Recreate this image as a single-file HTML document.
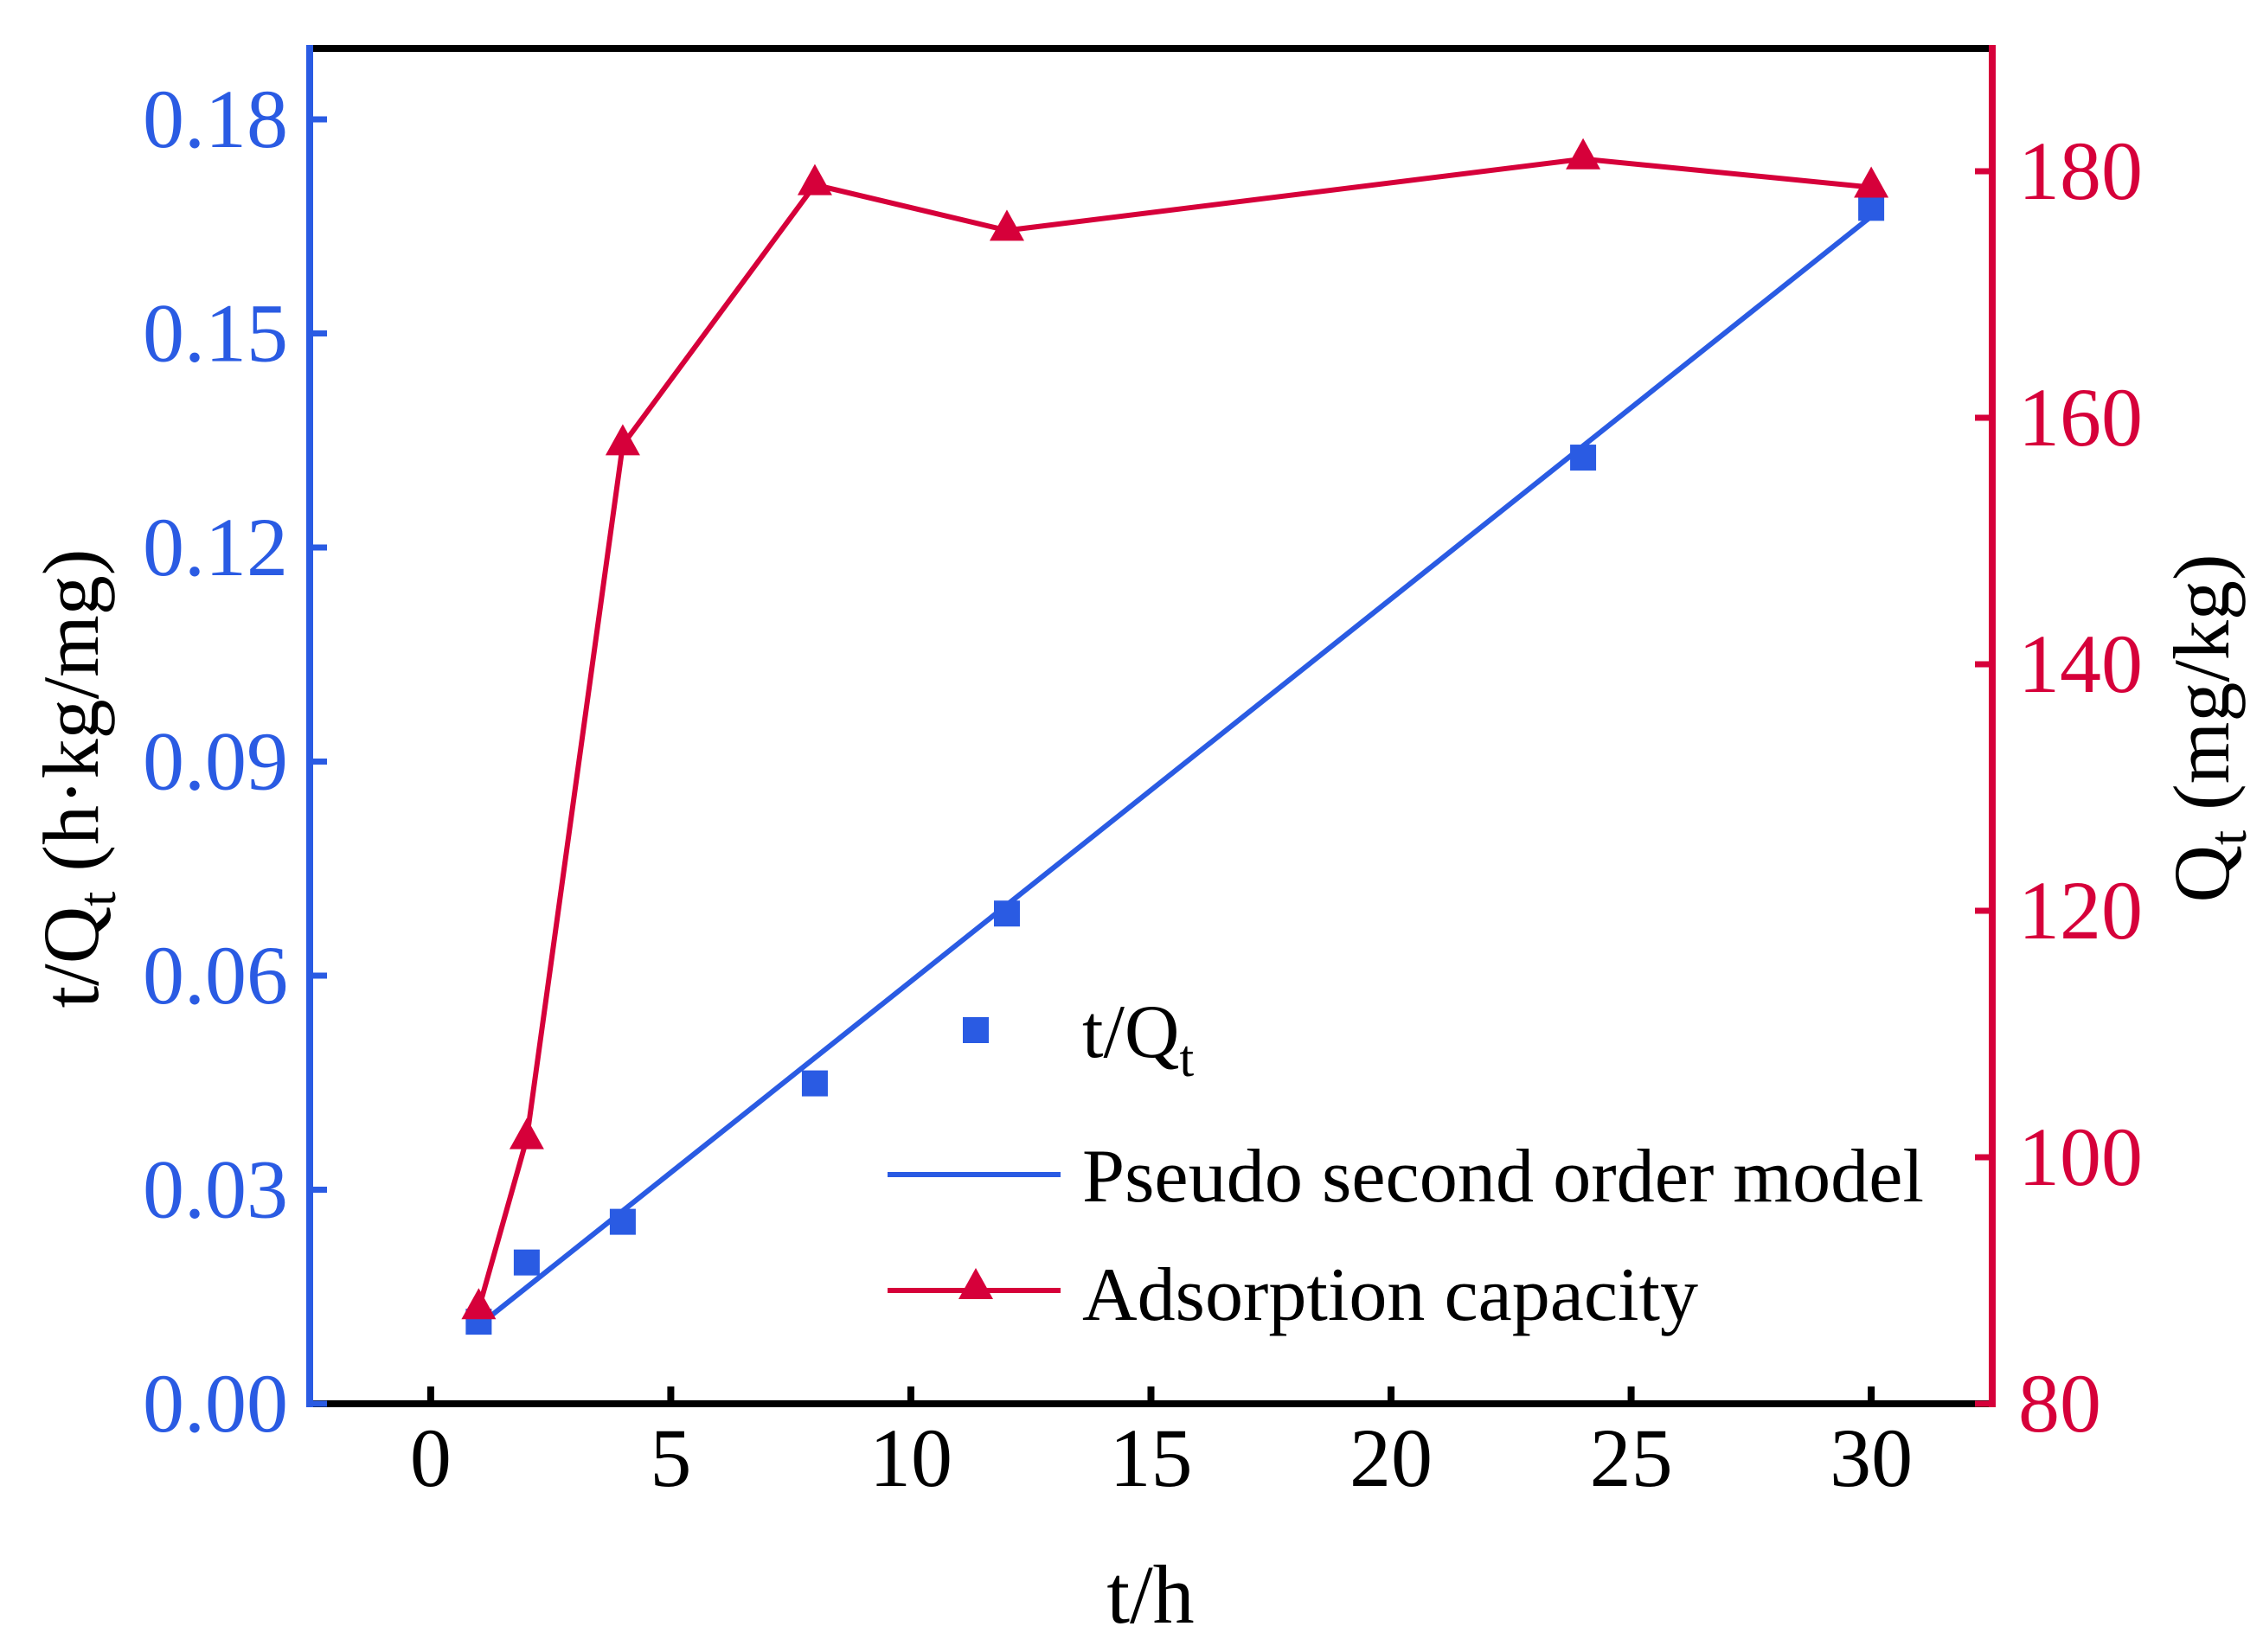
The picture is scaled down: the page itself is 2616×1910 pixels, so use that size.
<!DOCTYPE html>
<html><head><meta charset="utf-8"><style>
html,body{margin:0;padding:0;background:#fff;}
svg{display:block;font-family:"Liberation Serif",serif;}
</style></head><body>
<svg id="chart" width="2616" height="1910" viewBox="0 0 2616 1910" xmlns="http://www.w3.org/2000/svg">
<rect width="2616" height="1910" fill="#fff"/>
<g id="marks"></g>
<g id="axes"></g>
</svg>
<script>
const times = [1, 2, 4, 8, 12, 24, 30];
const tOverQ = [0.0115, 0.0198, 0.0255, 0.0449, 0.0687, 0.1326, 0.1676];
const qt = [87.7, 101.5, 157.8, 178.9, 175.2, 181.0, 178.7];
const fitSlope = 0.00536;
const fitIntercept = 0.0056;
const xTicks = [0, 5, 10, 15, 20, 25, 30];
const yLeftTicks = [0, 0.03, 0.06, 0.09, 0.12, 0.15, 0.18];
const yLeftLabels = ["0.00", "0.03", "0.06", "0.09", "0.12", "0.15", "0.18"];
const yRightTicks = [80, 100, 120, 140, 160, 180];

const PL = 358, PR = 2303, PT = 56, PB = 1623;
const X0 = -2.52, X1 = 32.52;
const BLUE = "#2a5be3", RED = "#d6003a";
function sx(v){ return PL + (v - X0) / (X1 - X0) * (PR - PL); }
function syL(v){ return PB - v / 0.18 * (PB - 138); }
function syR(v){ return PB - (v - 80) / 100 * (PB - 198); }

const NS = "http://www.w3.org/2000/svg";
const marksG = document.getElementById('marks');
const axesG = document.getElementById('axes');
function mk(tag, attrs, parent){
  const e = document.createElementNS(NS, tag);
  for (const k in attrs) e.setAttribute(k, attrs[k]);
  parent.appendChild(e);
  return e;
}

const fitLine = mk('line', {x1: sx(times[0]), y1: syL(fitSlope*times[0]+fitIntercept), x2: sx(times[times.length-1]), y2: syL(fitSlope*times[times.length-1]+fitIntercept), stroke: BLUE, 'stroke-width': 6}, marksG);



times.forEach((t, i) => {
  const s = mk('rect', {x: sx(t)-15, y: syL(tOverQ[i])-15, width: 30, height: 30, fill: BLUE}, marksG);
  
  
});

const redPts = times.map((t, i) => sx(t) + ',' + syR(qt[i])).join(' ');
const redLine = mk('polyline', {points: redPts, fill: 'none', stroke: RED, 'stroke-width': 6}, marksG);


function tri(cx, cy, parent){
  return mk('polygon', {points: `${cx},${cy-24} ${cx-20},${cy+12} ${cx+20},${cy+12}`, fill: RED}, parent);
}
times.forEach((t, i) => {
  const tr = tri(sx(t), syR(qt[i]), marksG);
  
  
});

const topAxis = mk('line', {x1: PL, y1: PT, x2: PR, y2: PT, stroke: '#000', 'stroke-width': 8}, axesG);


const botAxis = mk('line', {x1: PL, y1: PB, x2: PR, y2: PB, stroke: '#000', 'stroke-width': 8}, axesG);


const leftAxis = mk('line', {x1: PL, y1: PT-4, x2: PL, y2: PB+4, stroke: BLUE, 'stroke-width': 8}, axesG);


const rightAxis = mk('line', {x1: PR, y1: PT-4, x2: PR, y2: PB+4, stroke: RED, 'stroke-width': 8}, axesG);



xTicks.forEach(v => {
  const tk = mk('line', {x1: sx(v), y1: PB, x2: sx(v), y2: PB-20, stroke: '#000', 'stroke-width': 8}, axesG);
  
  
  const tx = mk('text', {x: sx(v), y: 1718, 'text-anchor': 'middle', 'font-size': 96, fill: '#000'}, axesG);
  tx.textContent = v;
  
  
});
yLeftTicks.forEach((v, i) => {
  const tk = mk('line', {x1: PL, y1: syL(v), x2: PL+20, y2: syL(v), stroke: BLUE, 'stroke-width': 7}, axesG);
  
  
  const tx = mk('text', {x: 333, y: syL(v)+32, 'text-anchor': 'end', 'font-size': 96, fill: BLUE}, axesG);
  tx.textContent = yLeftLabels[i];
  
  
});
yRightTicks.forEach(v => {
  const tk = mk('line', {x1: PR, y1: syR(v), x2: PR-20, y2: syR(v), stroke: RED, 'stroke-width': 7}, axesG);
  
  
  const tx = mk('text', {x: 2333, y: syR(v)+32, 'text-anchor': 'start', 'font-size': 96, fill: RED}, axesG);
  tx.textContent = v;
  
  
});

const legendG = mk('g', {}, axesG);


const lg1 = mk('rect', {x: 1113, y: 1176, width: 30, height: 30, fill: BLUE}, legendG);


const lt1 = mk('text', {x: 1251, y: 1222, 'font-size': 88, fill: '#000'}, legendG);
lt1.innerHTML = 't/Q<tspan font-size="60" dy="22">t</tspan>';


const lg2 = mk('line', {x1: 1026, y1: 1358, x2: 1226, y2: 1358, stroke: BLUE, 'stroke-width': 6}, legendG);


const lt2 = mk('text', {x: 1251, y: 1389, 'font-size': 88, fill: '#000', textLength: 973, lengthAdjust: 'spacingAndGlyphs'}, legendG);
lt2.textContent = 'Pseudo second order model';


const lg3 = mk('line', {x1: 1026, y1: 1492, x2: 1226, y2: 1492, stroke: RED, 'stroke-width': 6}, legendG);


const lg3m = tri(1128, 1490, legendG);


const lt3 = mk('text', {x: 1251, y: 1526, 'font-size': 88, fill: '#000', textLength: 712, lengthAdjust: 'spacingAndGlyphs'}, legendG);
lt3.textContent = 'Adsorption capacity';



const xTitle = mk('text', {x: 1330, y: 1876, 'text-anchor': 'middle', 'font-size': 96, fill: '#000'}, axesG);
xTitle.textContent = 't/h';


const yLTitle = mk('text', {x: 0, y: 0, 'text-anchor': 'middle', 'font-size': 92, fill: '#000', transform: 'translate(113,900) rotate(-90)'}, axesG);
yLTitle.innerHTML = 't/Q<tspan font-size="62" dy="20">t</tspan><tspan dy="-20"> (h·kg/mg)</tspan>';


const yRTitle = mk('text', {x: 0, y: 0, 'text-anchor': 'middle', 'font-size': 92, fill: '#000', transform: 'translate(2576,842) rotate(-90)'}, axesG);
yRTitle.innerHTML = 'Q<tspan font-size="62" dy="20">t</tspan><tspan dy="-20"> (mg/kg)</tspan>';


</script>
</body></html>
